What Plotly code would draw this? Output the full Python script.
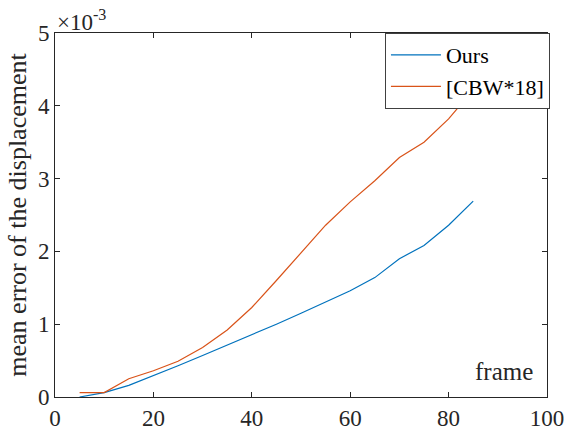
import plotly.graph_objects as go

frames = [5, 10, 15, 20, 25, 30, 35, 40, 45, 50, 55, 60, 65, 70, 75, 80, 85]
ours = [0.0, 0.06, 0.16, 0.29, 0.43, 0.57, 0.71, 0.86, 1.0, 1.15, 1.3, 1.46, 1.64, 1.9, 2.08, 2.36, 2.69]
cbw18 = [0.06, 0.06, 0.25, 0.36, 0.49, 0.68, 0.92, 1.23, 1.6, 1.98, 2.36, 2.68, 2.97, 3.29, 3.5, 3.82, 4.22]
scale = 1e-3
ours_v = [v * scale for v in ours]
cbw_v = [v * scale for v in cbw18]

x_ticks = [0, 20, 40, 60, 80, 100]
y_tick_labels = ["0", "1", "2", "3", "4", "5"]
y_ticks = [int(t) * scale for t in y_tick_labels]

font = "'Liberation Serif', 'Times New Roman', 'DejaVu Serif', serif"
axcol = "#262626"

fig = go.Figure()
fig.add_trace(go.Scatter(x=frames, y=ours_v, mode="lines", name="Ours",
                         line=dict(color="#0072BD", width=1.2)))
fig.add_trace(go.Scatter(x=frames, y=cbw_v, mode="lines", name="[CBW*18]",
                         line=dict(color="#D95319", width=1.2)))

fig.update_layout(
    width=567, height=435,
    margin=dict(l=55, r=20, t=33, b=38, autoexpand=False),
    paper_bgcolor="white", plot_bgcolor="white",
    font=dict(family=font, size=23, color=axcol),
    showlegend=True,
    legend=dict(x=1.006, y=1, xanchor="right", yanchor="top",
                bgcolor="white", bordercolor="#404040", borderwidth=1,
                font=dict(family=font, size=22, color="black"),
                tracegroupgap=0, itemwidth=50),
    xaxis=dict(range=[0, 100], tickvals=x_ticks, ticks="inside", ticklen=5,
               showline=True, linecolor=axcol, linewidth=1, mirror="allticks",
               showgrid=False, zeroline=False, tickcolor=axcol, automargin=False,
               tickfont=dict(family=font, size=23, color=axcol)),
    yaxis=dict(range=[0, 5 * scale], tickvals=y_ticks, ticktext=y_tick_labels,
               ticks="inside", ticklen=5,
               showline=True, linecolor=axcol, linewidth=1, mirror="allticks",
               showgrid=False, zeroline=False, tickcolor=axcol, automargin=False,
               tickfont=dict(family=font, size=23, color=axcol),
               title=dict(text="mean error of the displacement", standoff=3,
                          font=dict(family=font, size=26, color=axcol))),
    annotations=[
        dict(text="×10<sup>-3</sup>", xref="paper", yref="paper", x=0, y=1,
             xanchor="left", yanchor="bottom", showarrow=False,
             font=dict(family=font, size=23, color=axcol), yshift=-4),
        dict(text="frame", xref="paper", yref="paper", x=0.995, y=0.07,
             xanchor="right", yanchor="middle", showarrow=False, xshift=-10,
             font=dict(family=font, size=25, color=axcol)),
    ],
)

fig.write_html("out.html", config={"displayModeBar": False},
               post_script="document.body.style.margin='0';document.body.style.overflow='hidden';")
